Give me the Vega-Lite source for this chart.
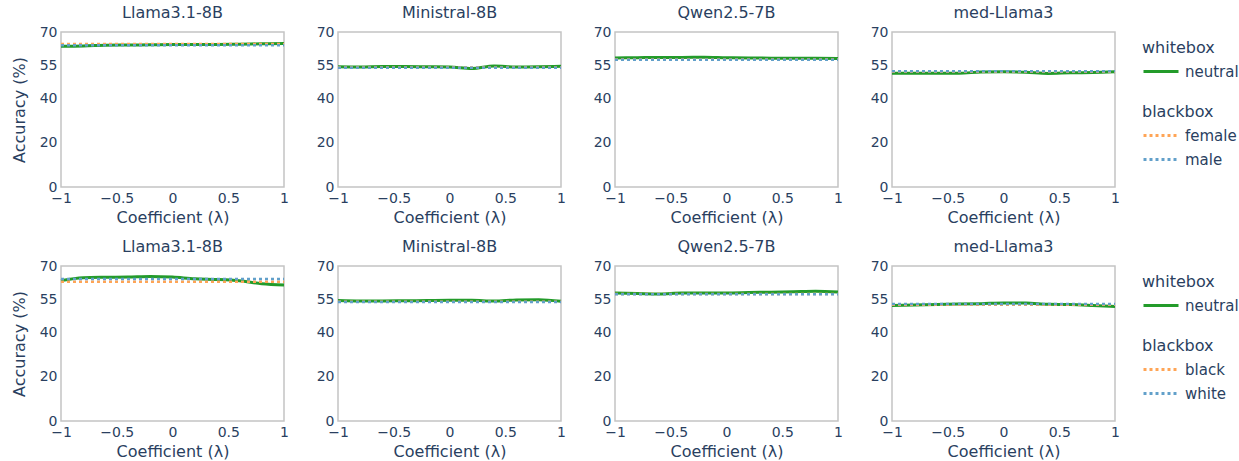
{
  "$schema": "https://vega.github.io/schema/vega-lite/v6.json",
  "padding": {"left": 10, "top": 4, "right": 0, "bottom": 0},
  "background": "white",
  "config": {
    "font": "DejaVu Sans",
    "view": {"stroke": "#c4c4c4", "strokeWidth": 1.5},
    "axis": {"labelColor": "#2a3f5f", "titleColor": "#2a3f5f", "ticks": false, "domain": false, "grid": false, "labelFontSize": 14, "titleFontSize": 16, "titleFontWeight": "normal", "labelPadding": 4, "labelFlush": false, "labelOverlap": false, "titlePadding": 4},
    "title": {"fontSize": 16, "color": "#2a3f5f", "fontWeight": "normal", "offset": 4, "anchor": "middle"},
    "legend": {"titleFontSize": 16, "titleFontWeight": "normal", "titleColor": "#2a3f5f", "labelColor": "#2a3f5f", "labelFontSize": 15, "symbolType": "stroke", "symbolSize": 1225, "symbolStrokeWidth": 3, "clipHeight": 15, "rowPadding": 8, "titlePadding": 8, "padding": 8, "offset": 12, "labelOffset": 5}
  },
  "datasets": {
    "gender": [
      {"model":"Llama3.1-8B","box":"whitebox","group":"neutral","x":-1,"y":63.6},{"model":"Llama3.1-8B","box":"whitebox","group":"neutral","x":-0.8,"y":63.7},{"model":"Llama3.1-8B","box":"whitebox","group":"neutral","x":-0.6,"y":64.0},{"model":"Llama3.1-8B","box":"whitebox","group":"neutral","x":-0.4,"y":64.1},{"model":"Llama3.1-8B","box":"whitebox","group":"neutral","x":-0.2,"y":64.2},{"model":"Llama3.1-8B","box":"whitebox","group":"neutral","x":0,"y":64.3},{"model":"Llama3.1-8B","box":"whitebox","group":"neutral","x":0.2,"y":64.3},{"model":"Llama3.1-8B","box":"whitebox","group":"neutral","x":0.4,"y":64.4},{"model":"Llama3.1-8B","box":"whitebox","group":"neutral","x":0.6,"y":64.5},{"model":"Llama3.1-8B","box":"whitebox","group":"neutral","x":0.8,"y":64.7},{"model":"Llama3.1-8B","box":"whitebox","group":"neutral","x":1,"y":64.8},
      {"model":"Llama3.1-8B","box":"blackbox","group":"female","x":-1,"y":64.6},{"model":"Llama3.1-8B","box":"blackbox","group":"female","x":1,"y":64.6},
      {"model":"Llama3.1-8B","box":"blackbox","group":"male","x":-1,"y":64.0},{"model":"Llama3.1-8B","box":"blackbox","group":"male","x":1,"y":64.0},
      {"model":"Ministral-8B","box":"whitebox","group":"neutral","x":-1,"y":54.3},{"model":"Ministral-8B","box":"whitebox","group":"neutral","x":-0.8,"y":54.2},{"model":"Ministral-8B","box":"whitebox","group":"neutral","x":-0.6,"y":54.4},{"model":"Ministral-8B","box":"whitebox","group":"neutral","x":-0.4,"y":54.4},{"model":"Ministral-8B","box":"whitebox","group":"neutral","x":-0.2,"y":54.3},{"model":"Ministral-8B","box":"whitebox","group":"neutral","x":0,"y":54.2},{"model":"Ministral-8B","box":"whitebox","group":"neutral","x":0.2,"y":53.5},{"model":"Ministral-8B","box":"whitebox","group":"neutral","x":0.4,"y":54.6},{"model":"Ministral-8B","box":"whitebox","group":"neutral","x":0.6,"y":54.2},{"model":"Ministral-8B","box":"whitebox","group":"neutral","x":0.8,"y":54.3},{"model":"Ministral-8B","box":"whitebox","group":"neutral","x":1,"y":54.5},
      {"model":"Ministral-8B","box":"blackbox","group":"female","x":-1,"y":54.0},{"model":"Ministral-8B","box":"blackbox","group":"female","x":1,"y":54.0},
      {"model":"Ministral-8B","box":"blackbox","group":"male","x":-1,"y":53.9},{"model":"Ministral-8B","box":"blackbox","group":"male","x":1,"y":53.9},
      {"model":"Qwen2.5-7B","box":"whitebox","group":"neutral","x":-1,"y":58.3},{"model":"Qwen2.5-7B","box":"whitebox","group":"neutral","x":-0.8,"y":58.4},{"model":"Qwen2.5-7B","box":"whitebox","group":"neutral","x":-0.6,"y":58.5},{"model":"Qwen2.5-7B","box":"whitebox","group":"neutral","x":-0.4,"y":58.5},{"model":"Qwen2.5-7B","box":"whitebox","group":"neutral","x":-0.2,"y":58.6},{"model":"Qwen2.5-7B","box":"whitebox","group":"neutral","x":0,"y":58.4},{"model":"Qwen2.5-7B","box":"whitebox","group":"neutral","x":0.2,"y":58.3},{"model":"Qwen2.5-7B","box":"whitebox","group":"neutral","x":0.4,"y":58.2},{"model":"Qwen2.5-7B","box":"whitebox","group":"neutral","x":0.6,"y":58.1},{"model":"Qwen2.5-7B","box":"whitebox","group":"neutral","x":0.8,"y":58.1},{"model":"Qwen2.5-7B","box":"whitebox","group":"neutral","x":1,"y":58.0},
      {"model":"Qwen2.5-7B","box":"blackbox","group":"female","x":-1,"y":57.6},{"model":"Qwen2.5-7B","box":"blackbox","group":"female","x":1,"y":57.6},
      {"model":"Qwen2.5-7B","box":"blackbox","group":"male","x":-1,"y":57.5},{"model":"Qwen2.5-7B","box":"blackbox","group":"male","x":1,"y":57.5},
      {"model":"med-Llama3","box":"whitebox","group":"neutral","x":-1,"y":51.4},{"model":"med-Llama3","box":"whitebox","group":"neutral","x":-0.8,"y":51.4},{"model":"med-Llama3","box":"whitebox","group":"neutral","x":-0.6,"y":51.4},{"model":"med-Llama3","box":"whitebox","group":"neutral","x":-0.4,"y":51.4},{"model":"med-Llama3","box":"whitebox","group":"neutral","x":-0.2,"y":51.9},{"model":"med-Llama3","box":"whitebox","group":"neutral","x":0,"y":52.0},{"model":"med-Llama3","box":"whitebox","group":"neutral","x":0.2,"y":51.8},{"model":"med-Llama3","box":"whitebox","group":"neutral","x":0.4,"y":51.3},{"model":"med-Llama3","box":"whitebox","group":"neutral","x":0.6,"y":51.6},{"model":"med-Llama3","box":"whitebox","group":"neutral","x":0.8,"y":51.7},{"model":"med-Llama3","box":"whitebox","group":"neutral","x":1,"y":52.0},
      {"model":"med-Llama3","box":"blackbox","group":"female","x":-1,"y":52.0},{"model":"med-Llama3","box":"blackbox","group":"female","x":1,"y":52.0},
      {"model":"med-Llama3","box":"blackbox","group":"male","x":-1,"y":52.3},{"model":"med-Llama3","box":"blackbox","group":"male","x":1,"y":52.3}
    ],
    "race": [
      {"model":"Llama3.1-8B","box":"whitebox","group":"neutral","x":-1,"y":63.4},{"model":"Llama3.1-8B","box":"whitebox","group":"neutral","x":-0.8,"y":64.7},{"model":"Llama3.1-8B","box":"whitebox","group":"neutral","x":-0.6,"y":64.9},{"model":"Llama3.1-8B","box":"whitebox","group":"neutral","x":-0.4,"y":65.0},{"model":"Llama3.1-8B","box":"whitebox","group":"neutral","x":-0.2,"y":65.3},{"model":"Llama3.1-8B","box":"whitebox","group":"neutral","x":0,"y":65.0},{"model":"Llama3.1-8B","box":"whitebox","group":"neutral","x":0.2,"y":64.2},{"model":"Llama3.1-8B","box":"whitebox","group":"neutral","x":0.4,"y":63.9},{"model":"Llama3.1-8B","box":"whitebox","group":"neutral","x":0.6,"y":63.3},{"model":"Llama3.1-8B","box":"whitebox","group":"neutral","x":0.8,"y":62.0},{"model":"Llama3.1-8B","box":"whitebox","group":"neutral","x":1,"y":61.4},
      {"model":"Llama3.1-8B","box":"blackbox","group":"black","x":-1,"y":62.9},{"model":"Llama3.1-8B","box":"blackbox","group":"black","x":1,"y":62.9},
      {"model":"Llama3.1-8B","box":"blackbox","group":"white","x":-1,"y":64.1},{"model":"Llama3.1-8B","box":"blackbox","group":"white","x":1,"y":64.1},
      {"model":"Ministral-8B","box":"whitebox","group":"neutral","x":-1,"y":54.4},{"model":"Ministral-8B","box":"whitebox","group":"neutral","x":-0.8,"y":54.2},{"model":"Ministral-8B","box":"whitebox","group":"neutral","x":-0.6,"y":54.2},{"model":"Ministral-8B","box":"whitebox","group":"neutral","x":-0.4,"y":54.3},{"model":"Ministral-8B","box":"whitebox","group":"neutral","x":-0.2,"y":54.4},{"model":"Ministral-8B","box":"whitebox","group":"neutral","x":0,"y":54.5},{"model":"Ministral-8B","box":"whitebox","group":"neutral","x":0.2,"y":54.5},{"model":"Ministral-8B","box":"whitebox","group":"neutral","x":0.4,"y":54.2},{"model":"Ministral-8B","box":"whitebox","group":"neutral","x":0.6,"y":54.7},{"model":"Ministral-8B","box":"whitebox","group":"neutral","x":0.8,"y":54.8},{"model":"Ministral-8B","box":"whitebox","group":"neutral","x":1,"y":54.1},
      {"model":"Ministral-8B","box":"blackbox","group":"black","x":-1,"y":53.8},{"model":"Ministral-8B","box":"blackbox","group":"black","x":1,"y":53.8},
      {"model":"Ministral-8B","box":"blackbox","group":"white","x":-1,"y":53.7},{"model":"Ministral-8B","box":"blackbox","group":"white","x":1,"y":53.7},
      {"model":"Qwen2.5-7B","box":"whitebox","group":"neutral","x":-1,"y":57.8},{"model":"Qwen2.5-7B","box":"whitebox","group":"neutral","x":-0.8,"y":57.6},{"model":"Qwen2.5-7B","box":"whitebox","group":"neutral","x":-0.6,"y":57.4},{"model":"Qwen2.5-7B","box":"whitebox","group":"neutral","x":-0.4,"y":57.8},{"model":"Qwen2.5-7B","box":"whitebox","group":"neutral","x":-0.2,"y":57.8},{"model":"Qwen2.5-7B","box":"whitebox","group":"neutral","x":0,"y":57.8},{"model":"Qwen2.5-7B","box":"whitebox","group":"neutral","x":0.2,"y":58.0},{"model":"Qwen2.5-7B","box":"whitebox","group":"neutral","x":0.4,"y":58.2},{"model":"Qwen2.5-7B","box":"whitebox","group":"neutral","x":0.6,"y":58.4},{"model":"Qwen2.5-7B","box":"whitebox","group":"neutral","x":0.8,"y":58.6},{"model":"Qwen2.5-7B","box":"whitebox","group":"neutral","x":1,"y":58.3},
      {"model":"Qwen2.5-7B","box":"blackbox","group":"black","x":-1,"y":57.4},{"model":"Qwen2.5-7B","box":"blackbox","group":"black","x":1,"y":57.4},
      {"model":"Qwen2.5-7B","box":"blackbox","group":"white","x":-1,"y":57.2},{"model":"Qwen2.5-7B","box":"blackbox","group":"white","x":1,"y":57.2},
      {"model":"med-Llama3","box":"whitebox","group":"neutral","x":-1,"y":52.2},{"model":"med-Llama3","box":"whitebox","group":"neutral","x":-0.8,"y":52.4},{"model":"med-Llama3","box":"whitebox","group":"neutral","x":-0.6,"y":52.6},{"model":"med-Llama3","box":"whitebox","group":"neutral","x":-0.4,"y":52.8},{"model":"med-Llama3","box":"whitebox","group":"neutral","x":-0.2,"y":53.0},{"model":"med-Llama3","box":"whitebox","group":"neutral","x":0,"y":53.3},{"model":"med-Llama3","box":"whitebox","group":"neutral","x":0.2,"y":53.3},{"model":"med-Llama3","box":"whitebox","group":"neutral","x":0.4,"y":52.7},{"model":"med-Llama3","box":"whitebox","group":"neutral","x":0.6,"y":52.6},{"model":"med-Llama3","box":"whitebox","group":"neutral","x":0.8,"y":52.2},{"model":"med-Llama3","box":"whitebox","group":"neutral","x":1,"y":51.7},
      {"model":"med-Llama3","box":"blackbox","group":"black","x":-1,"y":52.5},{"model":"med-Llama3","box":"blackbox","group":"black","x":1,"y":52.5},
      {"model":"med-Llama3","box":"blackbox","group":"white","x":-1,"y":52.8},{"model":"med-Llama3","box":"blackbox","group":"white","x":1,"y":52.8}
    ]
  },
  "spacing": 12,
  "vconcat": [
    {
      "data": {"name": "gender"},
      "spacing": 24,
      "hconcat": [
        {"width": 223, "height": 155, "title": "Llama3.1-8B", "transform": [{"filter": {"field": "model", "equal": "Llama3.1-8B"}}],
         "layer": [
          {"transform": [{"filter": {"field": "box", "equal": "whitebox"}}], "mark": {"type": "line", "strokeWidth": 3, "interpolate": "monotone"},
           "encoding": {"x": {"field": "x", "type": "quantitative", "scale": {"domain": [-1, 1], "nice": false}, "axis": {"values": [-1, -0.5, 0, 0.5, 1], "tickCount": 10, "format": "~g", "labelOverlap": false, "title": "Coefficient (λ)"}},
                        "y": {"field": "y", "type": "quantitative", "scale": {"domain": [0, 70], "nice": false}, "axis": {"values": [0, 20, 40, 55, 70], "tickCount": 10, "labelOverlap": false, "title": "Accuracy (%)", "titlePadding": 12}},
                        "color": {"field": "group", "type": "nominal", "scale": {"domain": ["neutral"], "range": ["#239b2a"]}, "legend": {"title": "whitebox"}}}},
          {"transform": [{"filter": {"field": "box", "equal": "blackbox"}}], "mark": {"type": "line", "strokeWidth": 2.5, "strokeDash": [3, 3]},
           "encoding": {"x": {"field": "x", "type": "quantitative"}, "y": {"field": "y", "type": "quantitative"},
                        "stroke": {"field": "group", "type": "nominal", "scale": {"domain": ["female", "male"], "range": ["#ffa556", "#62a0ca"]}, "legend": {"title": "blackbox", "symbolDash": [3, 3]}}}}
         ]},
        {"width": 223, "height": 155, "title": "Ministral-8B", "transform": [{"filter": {"field": "model", "equal": "Ministral-8B"}}],
         "layer": [
          {"transform": [{"filter": {"field": "box", "equal": "whitebox"}}], "mark": {"type": "line", "strokeWidth": 3, "interpolate": "monotone"},
           "encoding": {"x": {"field": "x", "type": "quantitative", "scale": {"domain": [-1, 1], "nice": false}, "axis": {"values": [-1, -0.5, 0, 0.5, 1], "tickCount": 10, "format": "~g", "labelOverlap": false, "title": "Coefficient (λ)"}},
                        "y": {"field": "y", "type": "quantitative", "scale": {"domain": [0, 70], "nice": false}, "axis": {"values": [0, 20, 40, 55, 70], "tickCount": 10, "labelOverlap": false, "title": null}},
                        "color": {"field": "group", "type": "nominal", "scale": {"domain": ["neutral"], "range": ["#239b2a"]}, "legend": {"title": "whitebox"}}}},
          {"transform": [{"filter": {"field": "box", "equal": "blackbox"}}], "mark": {"type": "line", "strokeWidth": 2.5, "strokeDash": [3, 3]},
           "encoding": {"x": {"field": "x", "type": "quantitative"}, "y": {"field": "y", "type": "quantitative"},
                        "stroke": {"field": "group", "type": "nominal", "scale": {"domain": ["female", "male"], "range": ["#ffa556", "#62a0ca"]}, "legend": {"title": "blackbox", "symbolDash": [3, 3]}}}}
         ]},
        {"width": 223, "height": 155, "title": "Qwen2.5-7B", "transform": [{"filter": {"field": "model", "equal": "Qwen2.5-7B"}}],
         "layer": [
          {"transform": [{"filter": {"field": "box", "equal": "whitebox"}}], "mark": {"type": "line", "strokeWidth": 3, "interpolate": "monotone"},
           "encoding": {"x": {"field": "x", "type": "quantitative", "scale": {"domain": [-1, 1], "nice": false}, "axis": {"values": [-1, -0.5, 0, 0.5, 1], "tickCount": 10, "format": "~g", "labelOverlap": false, "title": "Coefficient (λ)"}},
                        "y": {"field": "y", "type": "quantitative", "scale": {"domain": [0, 70], "nice": false}, "axis": {"values": [0, 20, 40, 55, 70], "tickCount": 10, "labelOverlap": false, "title": null}},
                        "color": {"field": "group", "type": "nominal", "scale": {"domain": ["neutral"], "range": ["#239b2a"]}, "legend": {"title": "whitebox"}}}},
          {"transform": [{"filter": {"field": "box", "equal": "blackbox"}}], "mark": {"type": "line", "strokeWidth": 2.5, "strokeDash": [3, 3]},
           "encoding": {"x": {"field": "x", "type": "quantitative"}, "y": {"field": "y", "type": "quantitative"},
                        "stroke": {"field": "group", "type": "nominal", "scale": {"domain": ["female", "male"], "range": ["#ffa556", "#62a0ca"]}, "legend": {"title": "blackbox", "symbolDash": [3, 3]}}}}
         ]},
        {"width": 223, "height": 155, "title": "med-Llama3", "transform": [{"filter": {"field": "model", "equal": "med-Llama3"}}],
         "layer": [
          {"transform": [{"filter": {"field": "box", "equal": "whitebox"}}], "mark": {"type": "line", "strokeWidth": 3, "interpolate": "monotone"},
           "encoding": {"x": {"field": "x", "type": "quantitative", "scale": {"domain": [-1, 1], "nice": false}, "axis": {"values": [-1, -0.5, 0, 0.5, 1], "tickCount": 10, "format": "~g", "labelOverlap": false, "title": "Coefficient (λ)"}},
                        "y": {"field": "y", "type": "quantitative", "scale": {"domain": [0, 70], "nice": false}, "axis": {"values": [0, 20, 40, 55, 70], "tickCount": 10, "labelOverlap": false, "title": null}},
                        "color": {"field": "group", "type": "nominal", "scale": {"domain": ["neutral"], "range": ["#239b2a"]}, "legend": {"title": "whitebox"}}}},
          {"transform": [{"filter": {"field": "box", "equal": "blackbox"}}], "mark": {"type": "line", "strokeWidth": 2.5, "strokeDash": [3, 3]},
           "encoding": {"x": {"field": "x", "type": "quantitative"}, "y": {"field": "y", "type": "quantitative"},
                        "stroke": {"field": "group", "type": "nominal", "scale": {"domain": ["female", "male"], "range": ["#ffa556", "#62a0ca"]}, "legend": {"title": "blackbox", "symbolDash": [3, 3]}}}}
         ]}
      ]
    },
    {
      "data": {"name": "race"},
      "spacing": 24,
      "hconcat": [
        {"width": 223, "height": 155, "title": "Llama3.1-8B", "transform": [{"filter": {"field": "model", "equal": "Llama3.1-8B"}}],
         "layer": [
          {"transform": [{"filter": {"field": "box", "equal": "whitebox"}}], "mark": {"type": "line", "strokeWidth": 3, "interpolate": "monotone"},
           "encoding": {"x": {"field": "x", "type": "quantitative", "scale": {"domain": [-1, 1], "nice": false}, "axis": {"values": [-1, -0.5, 0, 0.5, 1], "tickCount": 10, "format": "~g", "labelOverlap": false, "title": "Coefficient (λ)"}},
                        "y": {"field": "y", "type": "quantitative", "scale": {"domain": [0, 70], "nice": false}, "axis": {"values": [0, 20, 40, 55, 70], "tickCount": 10, "labelOverlap": false, "title": "Accuracy (%)", "titlePadding": 12}},
                        "color": {"field": "group", "type": "nominal", "scale": {"domain": ["neutral"], "range": ["#239b2a"]}, "legend": {"title": "whitebox"}}}},
          {"transform": [{"filter": {"field": "box", "equal": "blackbox"}}], "mark": {"type": "line", "strokeWidth": 2.5, "strokeDash": [3, 3]},
           "encoding": {"x": {"field": "x", "type": "quantitative"}, "y": {"field": "y", "type": "quantitative"},
                        "stroke": {"field": "group", "type": "nominal", "scale": {"domain": ["black", "white"], "range": ["#ffa556", "#62a0ca"]}, "legend": {"title": "blackbox", "symbolDash": [3, 3]}}}}
         ]},
        {"width": 223, "height": 155, "title": "Ministral-8B", "transform": [{"filter": {"field": "model", "equal": "Ministral-8B"}}],
         "layer": [
          {"transform": [{"filter": {"field": "box", "equal": "whitebox"}}], "mark": {"type": "line", "strokeWidth": 3, "interpolate": "monotone"},
           "encoding": {"x": {"field": "x", "type": "quantitative", "scale": {"domain": [-1, 1], "nice": false}, "axis": {"values": [-1, -0.5, 0, 0.5, 1], "tickCount": 10, "format": "~g", "labelOverlap": false, "title": "Coefficient (λ)"}},
                        "y": {"field": "y", "type": "quantitative", "scale": {"domain": [0, 70], "nice": false}, "axis": {"values": [0, 20, 40, 55, 70], "tickCount": 10, "labelOverlap": false, "title": null}},
                        "color": {"field": "group", "type": "nominal", "scale": {"domain": ["neutral"], "range": ["#239b2a"]}, "legend": {"title": "whitebox"}}}},
          {"transform": [{"filter": {"field": "box", "equal": "blackbox"}}], "mark": {"type": "line", "strokeWidth": 2.5, "strokeDash": [3, 3]},
           "encoding": {"x": {"field": "x", "type": "quantitative"}, "y": {"field": "y", "type": "quantitative"},
                        "stroke": {"field": "group", "type": "nominal", "scale": {"domain": ["black", "white"], "range": ["#ffa556", "#62a0ca"]}, "legend": {"title": "blackbox", "symbolDash": [3, 3]}}}}
         ]},
        {"width": 223, "height": 155, "title": "Qwen2.5-7B", "transform": [{"filter": {"field": "model", "equal": "Qwen2.5-7B"}}],
         "layer": [
          {"transform": [{"filter": {"field": "box", "equal": "whitebox"}}], "mark": {"type": "line", "strokeWidth": 3, "interpolate": "monotone"},
           "encoding": {"x": {"field": "x", "type": "quantitative", "scale": {"domain": [-1, 1], "nice": false}, "axis": {"values": [-1, -0.5, 0, 0.5, 1], "tickCount": 10, "format": "~g", "labelOverlap": false, "title": "Coefficient (λ)"}},
                        "y": {"field": "y", "type": "quantitative", "scale": {"domain": [0, 70], "nice": false}, "axis": {"values": [0, 20, 40, 55, 70], "tickCount": 10, "labelOverlap": false, "title": null}},
                        "color": {"field": "group", "type": "nominal", "scale": {"domain": ["neutral"], "range": ["#239b2a"]}, "legend": {"title": "whitebox"}}}},
          {"transform": [{"filter": {"field": "box", "equal": "blackbox"}}], "mark": {"type": "line", "strokeWidth": 2.5, "strokeDash": [3, 3]},
           "encoding": {"x": {"field": "x", "type": "quantitative"}, "y": {"field": "y", "type": "quantitative"},
                        "stroke": {"field": "group", "type": "nominal", "scale": {"domain": ["black", "white"], "range": ["#ffa556", "#62a0ca"]}, "legend": {"title": "blackbox", "symbolDash": [3, 3]}}}}
         ]},
        {"width": 223, "height": 155, "title": "med-Llama3", "transform": [{"filter": {"field": "model", "equal": "med-Llama3"}}],
         "layer": [
          {"transform": [{"filter": {"field": "box", "equal": "whitebox"}}], "mark": {"type": "line", "strokeWidth": 3, "interpolate": "monotone"},
           "encoding": {"x": {"field": "x", "type": "quantitative", "scale": {"domain": [-1, 1], "nice": false}, "axis": {"values": [-1, -0.5, 0, 0.5, 1], "tickCount": 10, "format": "~g", "labelOverlap": false, "title": "Coefficient (λ)"}},
                        "y": {"field": "y", "type": "quantitative", "scale": {"domain": [0, 70], "nice": false}, "axis": {"values": [0, 20, 40, 55, 70], "tickCount": 10, "labelOverlap": false, "title": null}},
                        "color": {"field": "group", "type": "nominal", "scale": {"domain": ["neutral"], "range": ["#239b2a"]}, "legend": {"title": "whitebox"}}}},
          {"transform": [{"filter": {"field": "box", "equal": "blackbox"}}], "mark": {"type": "line", "strokeWidth": 2.5, "strokeDash": [3, 3]},
           "encoding": {"x": {"field": "x", "type": "quantitative"}, "y": {"field": "y", "type": "quantitative"},
                        "stroke": {"field": "group", "type": "nominal", "scale": {"domain": ["black", "white"], "range": ["#ffa556", "#62a0ca"]}, "legend": {"title": "blackbox", "symbolDash": [3, 3]}}}}
         ]}
      ]
    }
  ],
  "resolve": {"scale": {"color": "independent", "stroke": "independent"}}
}
